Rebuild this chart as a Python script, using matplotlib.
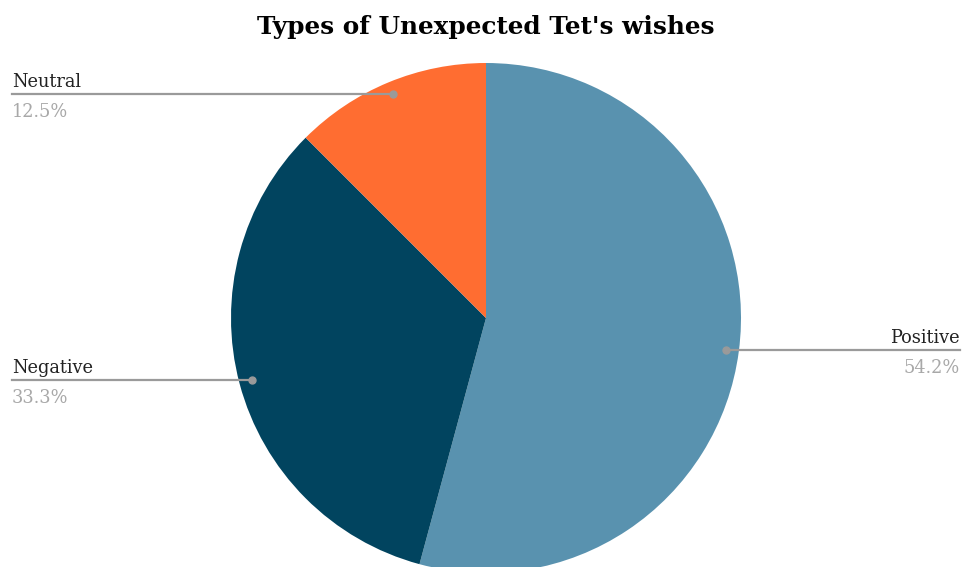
import numpy as np
import matplotlib
matplotlib.use("Agg")
import matplotlib.pyplot as plt
from matplotlib.lines import Line2D

categories = ["Positive", "Negative", "Neutral"]
values = [54.2, 33.3, 12.5]
pct_labels = ["54.2%", "33.3%", "12.5%"]
colors = ["#5992af", "#01445f", "#ff6d31"]
title = "Types of Unexpected Tet's wishes"

W, H = 963, 567
fig = plt.figure(figsize=(W / 100, H / 100), dpi=100)
fig.patch.set_facecolor("white")

def px(x, y):
    return x / W, 1 - y / H

# pie axes: center (486, 318) px, radius 255 px
cx, cy, r = 486, 318, 255
ax = fig.add_axes([(cx - r) / W, (H - cy - r) / H, 2 * r / W, 2 * r / H])
wedges, _ = ax.pie(values, colors=colors, startangle=90, counterclock=False,
                   radius=1.0, wedgeprops=dict(linewidth=0))
ax.set_xlim(-1, 1)
ax.set_ylim(-1, 1)
ax.set_aspect("auto")
ax.axis("off")
for w in wedges:
    w.set_clip_on(False)

fig.text(*px(486, 27), title, ha="center", va="center", fontsize=17.8,
         fontweight="bold", family="DejaVu Serif", color="#000000")

to_fig = fig.transFigure.inverted()
line_col = "#9a9a9a"
for w, cat, pl in zip(wedges, categories, pct_labels):
    mid = np.deg2rad((w.theta1 + w.theta2) / 2)
    dx, dy = 0.95 * np.cos(mid), 0.95 * np.sin(mid)
    ax.plot([dx], [dy], "o", color=line_col, markersize=5, clip_on=False, zorder=5)
    fx, fy = to_fig.transform(ax.transData.transform((dx, dy)))
    if dx < 0:
        ex, ha, tx = px(12, 0)[0], "left", px(12, 0)[0]
    else:
        ex, ha, tx = px(960, 0)[0], "right", px(960, 0)[0]
    fig.add_artist(Line2D([fx, ex], [fy, fy], color=line_col, linewidth=1.6,
                          transform=fig.transFigure))
    ly = H - fy * H
    fig.text(tx, 1 - (ly - 7) / H, cat, ha=ha, va="baseline", fontsize=12.8,
             family="DejaVu Serif", color="#222222")
    fig.text(tx, 1 - (ly + 23) / H, pl, ha=ha, va="baseline", fontsize=12.8,
             family="DejaVu Serif", color="#a8a8a8")

fig.savefig("out.png", dpi=100, facecolor="white")
